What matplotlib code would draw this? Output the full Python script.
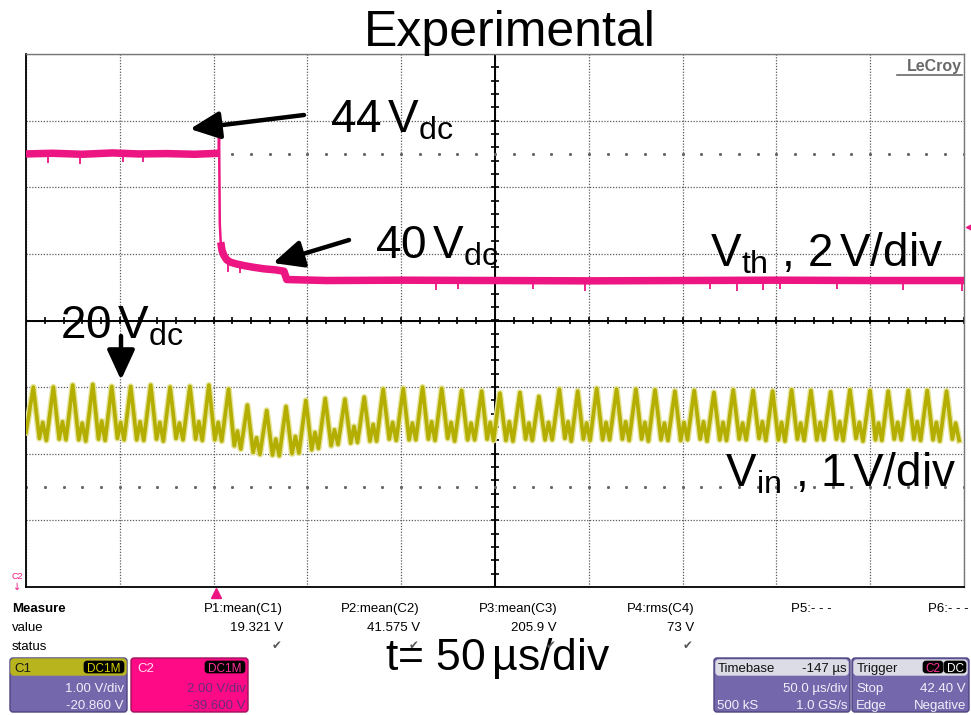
import numpy as np
import matplotlib.pyplot as plt
import matplotlib.patheffects as pe
from matplotlib.patches import FancyBboxPatch

plt.rcParams['font.family'] = ['Liberation Sans', 'DejaVu Sans']
plt.rcParams['mathtext.fontset'] = 'custom'
plt.rcParams['mathtext.rm'] = 'Liberation Sans'
plt.rcParams['mathtext.it'] = 'Liberation Sans:italic'

W, H = 971, 715

# scope settings
TIME_DIV = 50.0                  # us/div
C1_SCALE, C1_OFFSET = 1.0, -20.86  # V/div, V
C2_SCALE, C2_OFFSET = 2.0, -39.60
TRIG_T = 101.3                   # us from left edge
TRIG_LEVEL = 42.40               # V on C2

# C2 : V_th (volts vs us)
vth_t = [0, 14, 30, 46, 60, 75, 90, 102.7, 102.9, 103.3, 103.8, 104.5, 105.5,
         107, 109, 112, 116, 121, 127, 133, 137.5, 139, 160, 200, 250, 300,
         350, 400, 450, 500]
vth_v = [44.60, 44.62, 44.59, 44.63, 44.60, 44.61, 44.59, 44.62, 45.38, 42.50,
         41.95, 41.70, 41.55, 41.42, 41.35, 41.30, 41.25, 41.20, 41.15, 41.12,
         41.08, 40.83, 40.80, 40.81, 40.80, 40.79, 40.80, 40.81, 40.80, 40.80]
vth_spike_t = [11.7, 28.8, 51.7, 62.4, 107.5, 114.0, 218.5, 230.3, 270.2, 298.0,
               364.6, 379.0, 392.8, 401.9, 432.3, 467.5, 499.0]
vth_spike_v = [44.33, 44.30, 44.36, 44.35, 41.05, 41.02, 40.52, 40.55, 40.55, 40.50,
               40.55, 40.50, 40.52, 40.56, 40.54, 40.52, 40.50]

# C1 : V_in, one entry per ripple cycle (peak time, peak, valley, hump, valley)
vin_tp = [3.9, 14.6, 24.9, 35.6, 45.7, 55.8, 66.5, 76.8, 87.4, 97.5,
          108.0, 118.0, 128.3, 138.6, 149.2, 159.5, 170.0, 180.3, 190.4, 201.1,
          211.4, 221.6, 232.2, 242.9, 252.6, 263.3, 273.4, 284.3, 294.1, 304.2,
          314.8, 325.1, 335.3, 345.9, 356.2, 366.7, 377.0, 387.6, 398.0, 408.1,
          418.4, 428.9, 439.2, 449.9, 459.6, 470.3, 480.4, 490.7]
vin_pk = [19.86, 19.86, 19.89, 19.90, 19.87, 19.87, 19.89, 19.86, 19.87, 19.89,
          19.83, 19.59, 19.51, 19.57, 19.66, 19.69, 19.68, 19.71, 19.83, 19.84,
          19.86, 19.84, 19.81, 19.80, 19.77, 19.78, 19.72, 19.83, 19.80, 19.84,
          19.83, 19.83, 19.82, 19.80, 19.81, 19.78, 19.82, 19.81, 19.80, 19.82,
          19.81, 19.79, 19.82, 19.81, 19.80, 19.81, 19.81, 19.80]
vin_lo1 = [19.09, 19.08, 19.07, 19.08, 19.09, 19.07, 19.08, 19.09, 19.08, 19.07,
           18.98, 18.88, 18.84, 18.86, 18.92, 18.98, 19.02, 19.05, 19.08, 19.07,
           19.08, 19.09, 19.07, 19.08, 19.06, 19.08, 19.07, 19.09, 19.08, 19.07,
           19.08, 19.08, 19.07, 19.06, 19.08, 19.07, 19.08, 19.09, 19.07, 19.08,
           19.07, 19.08, 19.09, 19.07, 19.08, 19.08, 19.07, 19.08]
vin_hu = [19.33, 19.34, 19.32, 19.35, 19.33, 19.34, 19.33, 19.32, 19.34, 19.33,
          19.20, 19.10, 19.08, 19.12, 19.18, 19.22, 19.27, 19.30, 19.33, 19.32,
          19.34, 19.33, 19.32, 19.33, 19.34, 19.32, 19.33, 19.34, 19.32, 19.33,
          19.34, 19.33, 19.32, 19.33, 19.34, 19.33, 19.32, 19.34, 19.33, 19.32,
          19.33, 19.34, 19.33, 19.32, 19.33, 19.34, 19.33, 19.32]
vin_lo2 = [19.06, 19.07, 19.05, 19.06, 19.07, 19.06, 19.05, 19.07, 19.06, 19.05,
           18.93, 18.85, 18.83, 18.87, 18.94, 19.00, 19.03, 19.05, 19.06, 19.07,
           19.06, 19.05, 19.07, 19.06, 19.05, 19.06, 19.07, 19.05, 19.06, 19.07,
           19.06, 19.05, 19.06, 19.07, 19.05, 19.06, 19.07, 19.06, 19.05, 19.06,
           19.07, 19.06, 19.05, 19.06, 19.07, 19.06, 19.05, 19.06]
vin_start = 19.18

MAG = '#ec1582'
YEL = '#b3ae00'
PURPLE = '#7467ab'

fig = plt.figure(figsize=(W / 100, H / 100), dpi=100)
ax = fig.add_axes([26 / W, 1 - 587 / H, 938 / W, 533 / H])
ax.set_xlim(0, 10 * TIME_DIV)
ax.set_ylim(-4, 4)
ax.set_xticks(np.arange(0, 10 * TIME_DIV + 1, TIME_DIV))
ax.set_yticks(np.arange(-4, 5, 1))
ax.tick_params(length=0, labelbottom=False, labelleft=False)
ax.grid(True, ls=(0, (1, 1.3)), color='#5a5a5a', lw=0.9)
for s in ['left', 'bottom']:
    ax.spines[s].set_color('black')
    ax.spines[s].set_linewidth(1.3)
for s in ['top', 'right']:
    ax.spines[s].set_color('#777777')
    ax.spines[s].set_linewidth(1.0)

# centre cross with 1/5 div ticks
xc = 5 * TIME_DIV
ax.axhline(0, color='black', lw=1.4, zorder=2)
ax.axvline(xc, color='black', lw=1.4, zorder=2)
ax.vlines(np.arange(0, 10 * TIME_DIV + 1, TIME_DIV / 5), -0.06, 0.06, color='black', lw=1.2, zorder=2)
ax.hlines(np.arange(-4, 4.01, 0.2), xc - 2.2, xc + 2.2, color='black', lw=1.2, zorder=2)
# sub-division dot rows
dots_x = np.arange(0, 10 * TIME_DIV + 1, TIME_DIV / 5)
for yr in [2.5, -2.5]:
    ax.plot(dots_x, np.full(len(dots_x), yr), ls='none', marker='s', ms=1.1,
            color='#666666', zorder=2)

# V_in trace
vin_x = [0.0]
vin_y = [vin_start]
for k in range(len(vin_tp)):
    T = (vin_tp[k + 1] - vin_tp[k]) if k + 1 < len(vin_tp) else (vin_tp[k] - vin_tp[k - 1])
    vin_x += [vin_tp[k], vin_tp[k] + 0.3 * T, vin_tp[k] + 0.47 * T, vin_tp[k] + 0.65 * T]
    vin_y += [vin_pk[k], vin_lo1[k], vin_hu[k], vin_lo2[k]]
vin_div = (np.array(vin_y) + C1_OFFSET) / C1_SCALE
ax.plot(vin_x, vin_div, color=YEL, lw=2.6, zorder=3,
        path_effects=[pe.Stroke(linewidth=4.6, foreground='#e6e49a'), pe.Normal()])

# V_th trace: thin step, thick noisy plateaus
vth_t = np.array(vth_t)
vth_div = (np.array(vth_v) + C2_OFFSET) / C2_SCALE
ax.plot(vth_t, vth_div, color=MAG, lw=1.8, zorder=4)
pre = vth_t <= 102.7
post = vth_t >= 103.8
ax.plot(vth_t[pre], vth_div[pre], color=MAG, lw=5.4, solid_capstyle='butt', zorder=4)
ax.plot(vth_t[post], vth_div[post], color=MAG, lw=5.4, solid_capstyle='butt', zorder=4)
spike_base = np.interp(vth_spike_t, vth_t, vth_div)
spike_div = (np.array(vth_spike_v) + C2_OFFSET) / C2_SCALE
ax.vlines(vth_spike_t, spike_base, spike_div, color=MAG, lw=1.3, zorder=4)

# trigger markers
ax.plot([TRIG_T], [-0.012], marker='^', ms=7, color=MAG, clip_on=False,
        transform=ax.get_xaxis_transform(), zorder=5)
ax.plot([1.006], [(TRIG_LEVEL + C2_OFFSET) / C2_SCALE], marker='<', ms=6, color=MAG,
        clip_on=False, transform=ax.get_yaxis_transform(), zorder=5)

# overlay in pixel units for labels and the status panel
ov = fig.add_axes([0, 0, 1, 1])
ov.set_xlim(0, W)
ov.set_ylim(H, 0)
ov.axis('off')

big = 33
ov.text(510, 46, 'Experimental', fontsize=36, ha='center', va='baseline')
ov.text(330, 132, r'44$\,$V$_{\mathrm{dc}}$', fontsize=big, va='baseline')
ov.text(375, 258, r'40$\,$V$_{\mathrm{dc}}$', fontsize=big, va='baseline')
ov.text(60, 338, r'20$\,$V$_{\mathrm{dc}}$', fontsize=big, va='baseline')
ov.text(710, 266, r'V$_{\mathrm{th}}$ , 2$\,$V/div', fontsize=big, va='baseline')
ov.text(725, 486, r'V$_{\mathrm{in}}$ , 1$\,$V/div', fontsize=big, va='baseline')
ov.text(385, 670, r't= 50$\,$µs/div', fontsize=32, va='baseline')

arrow = dict(arrowstyle='-|>,head_length=0.65,head_width=0.3', lw=3.2, color='black',
             mutation_scale=28, shrinkA=0, shrinkB=0)
ov.annotate('', xy=(190, 129), xytext=(304, 115), arrowprops=arrow)
ov.annotate('', xy=(273, 263), xytext=(349, 240), arrowprops=arrow)
ov.annotate('', xy=(121, 380), xytext=(121, 336), arrowprops=arrow)

# brand
ov.text(962, 71, 'LeCroy', fontsize=11.5, color='#6a6a6a', ha='right', va='baseline',
        fontweight='bold')
ov.plot([897, 962], [74.5, 74.5], color='#6a6a6a', lw=1.2)

# channel 2 ground marker
ov.text(17, 579, 'C2', fontsize=6.5, color=MAG, ha='center', va='baseline')
ov.text(17, 590, '↓', fontsize=7, color=MAG, ha='center', va='baseline', family='DejaVu Sans')

# measurement table
fs = 9.5
ov.text(12, 612, 'Measure', fontsize=fs, fontweight='bold', va='baseline')
ov.text(12, 631, 'value', fontsize=fs, va='baseline')
ov.text(12, 650, 'status', fontsize=fs, va='baseline')
meas_names = ['P1:mean(C1)', 'P2:mean(C2)', 'P3:mean(C3)', 'P4:rms(C4)', 'P5:- - -', 'P6:- - -']
meas_vals = ['19.321 V', '41.575 V', '205.9 V', '73 V', '', '']
col_right = [283, 420, 557, 694, 832, 969]
for name, val, xr in zip(meas_names, meas_vals, col_right):
    ov.text(xr, 612, name, fontsize=fs, ha='right', va='baseline')
    if val:
        ov.text(xr, 631, val, fontsize=fs, ha='right', va='baseline')
        ov.text(xr - 1, 649, '✔', fontsize=8.5, ha='right', va='baseline',
                color='#555555', family='DejaVu Sans')


def box(x0, y0, w, h, fc, ec):
    ov.add_patch(FancyBboxPatch((x0, y0), w, h, boxstyle='round,pad=0,rounding_size=3',
                                fc=fc, ec=ec, lw=1.0))


def badge(x0, y0, w, txt, col):
    ov.add_patch(FancyBboxPatch((x0, y0), w, 12, boxstyle='round,pad=0,rounding_size=3',
                                fc='black', ec='black', lw=0.5))
    ov.text(x0 + w / 2, y0 + 10.5, txt, fontsize=8.5, color=col, ha='center', va='baseline')


# C1 box
box(10, 658, 117, 54, PURPLE, '#4d4480')
box(11, 659, 115, 16, '#b8b41e', '#b8b41e')
ov.text(14, 672, 'C1', fontsize=fs, color='#1a1a1a', va='baseline')
badge(84, 661, 40, 'DC1M', '#d8d400')
ov.text(124, 692, '1.00 V/div', fontsize=fs, color='#f0f0fa', ha='right', va='baseline')
ov.text(124, 709, '-20.860 V', fontsize=fs, color='#f0f0fa', ha='right', va='baseline')

# C2 box
box(131, 658, 117, 54, '#ff0a86', '#a0105a')
ov.text(137, 672, 'C2', fontsize=fs, color='#ffe0f0', va='baseline')
badge(205, 661, 40, 'DC1M', '#ff3399')
ov.text(246, 692, '2.00 V/div', fontsize=fs, color='#6a2a7a', ha='right', va='baseline')
ov.text(246, 709, '-39.600 V', fontsize=fs, color='#6a2a7a', ha='right', va='baseline')

# timebase box
box(714, 658, 136, 54, PURPLE, '#4d4480')
box(716, 660, 132, 15, '#dcdce6', '#dcdce6')
ov.text(718, 672, 'Timebase', fontsize=fs, color='#111111', va='baseline')
ov.text(847, 672, '-147 µs', fontsize=fs, color='#111111', ha='right', va='baseline')
ov.text(847, 692, '50.0 µs/div', fontsize=fs, color='#f0f0fa', ha='right', va='baseline')
ov.text(717, 709, '500 kS', fontsize=fs, color='#f0f0fa', va='baseline')
ov.text(847, 709, '1.0 GS/s', fontsize=fs, color='#f0f0fa', ha='right', va='baseline')

# trigger box
box(852, 658, 117, 54, PURPLE, '#4d4480')
box(854, 660, 113, 15, '#dcdce6', '#dcdce6')
ov.text(857, 672, 'Trigger', fontsize=fs, color='#111111', va='baseline')
badge(923, 661, 20, 'C2', '#ff3399')
badge(944, 661, 22, 'DC', '#ffffff')
ov.text(856, 692, 'Stop', fontsize=fs, color='#f0f0fa', va='baseline')
ov.text(966, 692, '42.40 V', fontsize=fs, color='#f0f0fa', ha='right', va='baseline')
ov.text(856, 709, 'Edge', fontsize=fs, color='#f0f0fa', va='baseline')
ov.text(966, 709, 'Negative', fontsize=fs, color='#f0f0fa', ha='right', va='baseline')

fig.savefig('out.png', dpi=100)
